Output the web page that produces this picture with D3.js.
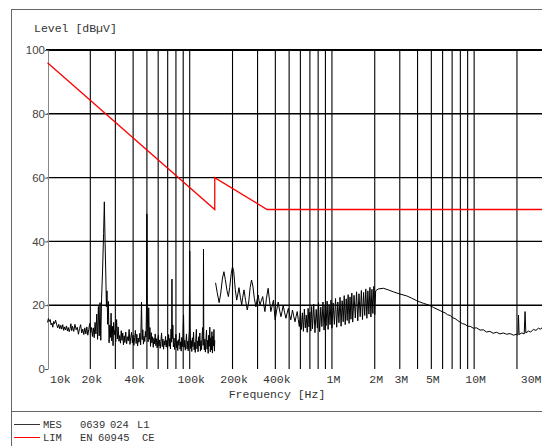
<!DOCTYPE html>
<html>
<head>
<meta charset="utf-8">
<script src="https://cdn.jsdelivr.net/npm/d3@7"></script>
<style>
  body { margin: 0; background: #fff; }
  svg { display: block; }
  .mono { font-family: "Liberation Mono", monospace; font-size: 11.5px; fill: #333; }
  .legend { font-size: 10.5px; }
</style>
</head>
<body>
<svg width="542" height="446"></svg>
<script>
// scan 1: 10 kHz - 150 kHz  [kHz, dBuV]
var scanLow = [
  [10.0,14.6],[10.15,15.8],[10.3,14.9],[10.45,15.5],[10.6,13.8],[10.75,14.4],[10.9,13.1],[11.05,14.9],
  [11.2,14.2],[11.4,15.3],[11.6,13.9],[11.8,12.9],[12.0,14.0],[12.2,12.6],[12.4,13.7],[12.6,12.5],
  [12.8,13.9],[13.0,12.1],[13.2,13.2],[13.4,12.3],[13.6,13.5],[13.8,11.9],[14.0,13.0],[14.2,11.7],
  [14.4,12.6],[14.6,14.2],[14.8,12.0],[15.0,13.4],[15.3,11.8],[15.6,14.0],[15.9,12.3],[16.2,13.1],
  [16.5,10.9],[16.8,12.7],[17.1,13.9],[17.4,11.3],[17.7,12.5],[18.0,10.8],[18.3,12.9],[18.6,11.0],
  [18.9,13.2],[19.2,10.6],[19.5,12.4],[19.8,14.3],[20.1,11.4],[20.4,13.0],[20.7,10.2],[21.0,12.9],
  [21.3,9.8],[21.6,14.6],[21.9,11.0],[22.2,17.2],[22.5,9.3],[22.8,19.6],[23.1,10.4],[23.4,20.8],
  [23.7,9.0],[24.0,22.0],[24.4,31.0],[24.8,42.5],[25.1,52.4],[25.4,40.0],[25.7,29.5],[25.95,19.5],
  [26.2,24.5],[26.5,14.0],[26.8,21.2],[27.1,8.2],[27.4,13.8],[27.7,9.9],[28.0,17.5],[28.3,8.8],
  [28.6,13.4],[28.9,7.3],[29.2,14.6],[29.5,10.8],[29.8,12.1],[30.2,8.6],[30.6,15.5],[31.0,9.4],
  [31.4,13.2],[31.8,8.7],[32.2,10.5],[32.6,8.1],[33.0,12.0],[33.4,9.0],[33.8,11.3],[34.2,7.6],
  [34.6,10.4],[35.0,8.3],[35.5,11.6],[36.0,7.9],[36.5,10.1],[37.0,8.8],[37.5,12.4],[38.0,7.7],
  [38.5,9.9],[39.0,11.5],[39.5,8.2],[40.0,10.6],[40.5,7.4],[41.0,9.8],[41.5,12.1],[42.0,8.0],
  [42.5,10.9],[43.0,7.2],[43.5,9.7],[44.0,8.4],[44.6,11.2],[45.2,7.6],[45.8,21.0],[46.3,9.2],
  [46.8,12.3],[47.3,7.8],[47.8,10.2],[48.3,8.6],[48.8,11.8],[49.3,10.0],[49.7,20.5],[50.0,48.6],
  [50.3,22.0],[50.6,12.5],[51.0,8.5],[51.5,19.2],[52.0,9.3],[52.5,13.0],[53.0,7.1],[53.6,11.4],
  [54.2,8.2],[54.8,10.1],[55.4,6.8],[56.0,9.6],[56.6,7.9],[57.2,11.0],[57.8,7.3],[58.4,9.5],
  [59.0,6.6],[59.6,8.9],[60.2,10.6],[60.8,7.2],[61.4,9.1],[62.0,6.5],[62.7,8.7],[63.4,11.3],
  [64.1,7.0],[64.8,9.4],[65.5,6.2],[66.2,8.8],[66.9,7.5],[67.6,10.2],[68.3,6.9],[69.0,9.0],
  [69.7,6.4],[70.4,8.6],[71.1,10.8],[71.8,7.1],[72.5,9.6],[73.2,6.3],[73.9,12.5],[74.6,8.4],
  [75.0,28.2],[75.4,9.5],[76.1,13.8],[76.8,6.9],[77.6,9.7],[78.4,6.1],[79.2,8.4],[80.0,10.9],
  [80.8,6.7],[81.6,8.8],[82.4,5.8],[83.2,9.2],[84.0,7.4],[84.8,11.3],[85.6,6.2],[86.4,8.5],
  [87.2,5.6],[88.0,9.9],[88.8,7.0],[89.6,10.4],[90.5,17.0],[91.3,6.8],[92.2,9.0],[93.1,5.9],
  [94.0,8.2],[94.9,11.0],[95.8,6.3],[96.7,8.7],[97.6,5.7],[98.5,9.4],[99.3,12.0],[100.0,37.0],
  [100.7,13.5],[101.6,6.4],[102.5,8.9],[103.4,5.5],[104.4,9.8],[105.4,7.0],[106.4,11.6],[107.4,6.0],
  [108.4,8.3],[109.4,5.2],[110.4,9.6],[111.4,12.4],[112.4,6.3],[113.4,8.8],[114.5,5.4],[115.6,10.1],
  [116.7,7.2],[117.8,11.3],[118.9,5.6],[120.0,8.9],[121.1,6.1],[122.2,10.5],[123.3,13.0],[124.4,7.4],
  [125.0,37.6],[125.6,10.2],[126.7,6.0],[127.8,9.3],[128.9,5.3],[130.0,8.7],[131.2,12.2],[132.4,6.2],
  [133.6,9.0],[134.8,4.9],[136.0,10.6],[137.2,7.1],[138.4,13.1],[139.6,5.4],[140.8,9.8],[142.0,6.0],
  [143.2,11.7],[144.4,5.0],[145.6,10.3],[146.8,7.2],[148.0,12.4],[149.2,5.6],[150.0,9.0]
];

// scan 2: 150 kHz - 30 MHz  [kHz, dBuV]
var scanHigh = [
  [152,27.0],[156,24.0],[161,20.8],[165,23.5],[170,28.5],[174,30.5],[178,28.0],[183,24.5],
  [187,22.7],[191,25.5],[196,30.0],[200,32.1],[204,30.5],[209,25.0],[214,21.6],[218,23.5],
  [222,25.5],[227,22.5],[232,20.1],[236,22.5],[241,24.8],[247,21.5],[254,18.5],[260,21.0],
  [266,25.5],[272,27.9],[278,26.0],[285,22.0],[292,19.5],[297,21.5],[303,23.2],[307,21.5],
  [312,20.1],[319,21.5],[326,22.7],[332,20.0],[338,18.0],[346,22.0],[356,25.3],[364,21.5],
  [372,18.0],[380,19.8],[388,21.6],[393,18.5],[399,15.4],[409,18.5],[419,21.0],[428,18.5],
  [438,16.4],[446,18.0],[454,20.0],[464,17.8],[475,15.9],[484,17.5],[494,19.0],[504,16.9],
  [514,15.4],[521,17.0],[528,18.5],[539,16.5],[550,14.8],[560,16.5],[570,18.0],[580,15.5],
  [590,13.3],[600,18.2],[610,12.4],[620,17.6],[630,11.8],[640,18.8],[650,12.9],[660,16.9],
  [670,11.5],[680,19.0],[690,13.2],[700,17.8],[710,11.9],[720,19.6],[730,12.6],[745,20.3],
  [760,11.4],[775,18.7],[790,12.8],[805,20.8],[820,11.7],[835,19.4],[850,13.3],[865,21.0],
  [880,12.2],[895,19.8],[910,13.6],[925,21.3],[940,12.4],[955,20.2],[970,13.9],[985,21.6],
  [1000,12.8],[1020,20.7],[1040,14.0],[1060,22.1],[1080,13.1],[1100,21.0],[1120,14.5],[1140,22.5],
  [1160,13.4],[1180,21.4],[1200,14.8],[1220,23.0],[1240,13.9],[1260,22.0],[1280,15.2],[1300,23.3],
  [1320,14.3],[1340,22.6],[1360,15.6],[1380,23.8],[1400,14.7],[1430,23.1],[1460,16.0],[1490,24.2],
  [1520,15.1],[1550,23.6],[1580,16.4],[1610,24.6],[1640,15.5],[1670,24.0],[1700,16.8],[1730,25.1],
  [1760,15.9],[1790,24.5],[1820,17.2],[1850,25.6],[1880,16.3],[1910,25.0],[1940,17.4],[1970,25.9],
  [2000,17.0],[2030,24.5],[2120,25.1],[2300,25.3],[2490,24.8],[2700,24.2],[3010,23.5],[3360,22.9],
  [3640,22.2],[3950,21.4],[4390,20.6],[4760,20.1],[5170,19.3],[5760,18.3],[6000,17.9],[6240,17.6],
  [6500,17.0],[6770,16.8],[7050,16.1],[7340,15.8],[7650,15.2],[7960,14.7],[8300,14.2],[8630,14.0],
  [9000,13.4],[9360,13.4],[9850,12.8],[10400,12.9],[11000,12.2],[11600,12.3],[12200,11.6],[12900,11.8],
  [13600,11.2],[14400,11.5],[15200,11.0],[16000,11.3],[16900,10.9],[17900,11.1],[18900,10.6],[19900,10.9],
  [20300,10.6],[20500,16.9],[20700,10.8],[21600,11.3],[22500,11.0],[22800,18.0],[23100,11.3],[24100,11.9],
  [25000,11.6],[26100,12.4],[27200,12.1],[28300,12.8],[29200,12.5],[30000,12.9]
];

// EN 60945 conducted limit [kHz, dBuV]
var limitLine = [[10,96],[150,50],[150,60],[350,50],[30000,50]];

var gridKHz = [20,30,40,50,60,70,80,90,100,200,300,400,500,600,700,800,900,
               1000,2000,3000,4000,5000,6000,7000,8000,9000,10000,20000];
var xTickKHz = [10,20,40,100,200,400,1000,2000,3000,5000,10000,30000];
var xTickLabels = ['10k','20k','40k','100k','200k','400k','1M','2M','3M','5M','10M','30M'];
var yTicks = [0,20,40,60,80,100];
var yGrid = [20,40,60,80];

var svg = d3.select('svg');

var x = d3.scaleLog().domain([10, 30000]).range([47.5, 542]),
    y = d3.scaleLinear().domain([0, 100]).range([369, 50]);

// outer frame + legend separator
svg.append('rect')
  .attr('x', 11.5).attr('y', 9.5)
  .attr('width', 560).attr('height', 460)
  .attr('fill', 'none').attr('stroke', '#666');
svg.append('line')
  .attr('x1', 11).attr('x2', 542).attr('y1', 411.5).attr('y2', 411.5)
  .attr('stroke', '#666');

// grid
svg.append('g').selectAll('line')
  .data(gridKHz).enter()
  .append('line')
  .attr('x1', function(d){ return x(d); })
  .attr('x2', function(d){ return x(d); })
  .attr('y1', y(100)).attr('y2', y(0))
  .attr('stroke', '#000').attr('stroke-width', 1.1);

svg.append('g').selectAll('line')
  .data(yGrid).enter()
  .append('line')
  .attr('x1', x(10)).attr('x2', 542)
  .attr('y1', function(d){ return y(d); })
  .attr('y2', function(d){ return y(d); })
  .attr('stroke', '#000').attr('stroke-width', 1.4);

svg.append('line')
  .attr('x1', 46).attr('x2', 542)
  .attr('y1', y(100)).attr('y2', y(100))
  .attr('stroke', '#000').attr('stroke-width', 2);

// y axis
var yAxis = svg.append('g')
  .attr('transform', 'translate(48,0)')
  .call(d3.axisLeft(y).tickValues(yTicks).tickSize(3).tickSizeOuter(0).tickPadding(0));
yAxis.select('.domain').attr('stroke', '#888');
yAxis.selectAll('.tick line').attr('stroke', '#555');
yAxis.selectAll('text')
  .attr('fill', '#444')
  .style('font-family', '"Liberation Sans", Arial, sans-serif')
  .style('font-size', '11.5px');

// x axis labels
var xAxis = svg.append('g')
  .attr('transform', 'translate(1,369)')
  .call(d3.axisBottom(x).tickValues(xTickKHz).tickSize(0).tickPadding(6)
    .tickFormat(function(d, i){ return xTickLabels[i]; }));
xAxis.select('.domain').remove();
xAxis.selectAll('text')
  .attr('class', 'mono')
  .attr('fill', null);
xAxis.selectAll('text').filter(function(d){ return d === 10; })
  .attr('text-anchor', 'start').attr('x', 1);
xAxis.selectAll('text').filter(function(d){ return d === 30000; })
  .attr('text-anchor', 'end').attr('x', -2);

// traces
var line = d3.line()
  .x(function(d){ return x(d[0]); })
  .y(function(d){ return y(d[1]); });

svg.append('path')
  .datum(limitLine)
  .attr('d', line)
  .attr('fill', 'none').attr('stroke', '#ff0000').attr('stroke-width', 1.3);

[scanLow, scanHigh].forEach(function(scan){
  svg.append('path')
    .datum(scan)
    .attr('d', line)
    .attr('fill', 'none').attr('stroke', '#000').attr('stroke-width', 1);
});

// titles
svg.append('text').attr('class', 'mono')
  .attr('x', 34).attr('y', 32)
  .text('Level [dB\u00b5V]');

svg.append('text').attr('class', 'mono')
  .attr('x', 277).attr('y', 398)
  .attr('text-anchor', 'middle')
  .text('Frequency [Hz]');

// legend
var legend = [
  {color: '#333', parts: [['MES', 43], ['0639', 80], ['024', 110], ['L1', 137]]},
  {color: '#ff0000', parts: [['LIM', 43], ['EN', 80], ['60945', 98], ['CE', 142]]}
];
legend.forEach(function(item, i){
  var ly = 424 + i * 13;
  svg.append('line')
    .attr('x1', 14).attr('x2', 40)
    .attr('y1', ly + 0.5).attr('y2', ly + 0.5)
    .attr('stroke', item.color);
  item.parts.forEach(function(p){
    svg.append('text').attr('class', 'mono legend')
      .attr('x', p[1]).attr('y', ly + 3.5)
      .text(p[0]);
  });
});
</script>
</body>
</html>
